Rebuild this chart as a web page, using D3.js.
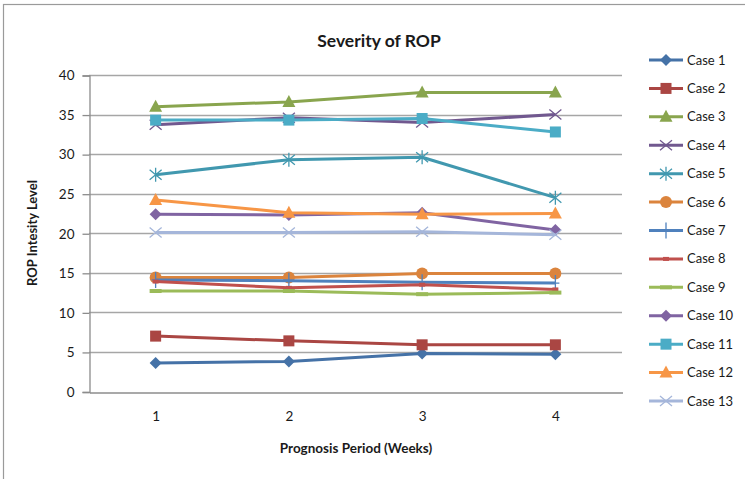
<!DOCTYPE html>
<html>
<head>
<meta charset="utf-8">
<script src="https://cdn.jsdelivr.net/npm/d3@7"></script>
<style>
  html, body { margin: 0; padding: 0; background: #fff; }
  svg text { font-family: Lato, "Open Sans", "Liberation Sans", sans-serif; fill: #1a1a1a; }
</style>
</head>
<body>
<svg id="chart" width="745" height="479"></svg>
<script>
// Prognosis weeks on the category axis
const weeks = ["1", "2", "3", "4"];
const yTicks = [0, 5, 10, 15, 20, 25, 30, 35, 40];

// ROP intensity per case for weeks 1-4
const case1  = [3.6, 3.8, 4.8, 4.7];
const case2  = [7.0, 6.4, 5.9, 5.9];
const case3  = [36.0, 36.6, 37.8, 37.8];
const case4  = [33.7, 34.6, 34.0, 35.0];
const case5  = [27.4, 29.3, 29.6, 24.5];
const case6  = [14.4, 14.4, 14.9, 14.9];
const case7  = [14.1, 14.0, 13.8, 13.7];
const case8  = [13.9, 13.1, 13.5, 12.9];
const case9  = [12.7, 12.7, 12.3, 12.5];
const case10 = [22.4, 22.3, 22.6, 20.4];
const case11 = [34.3, 34.3, 34.5, 32.8];
const case12 = [24.2, 22.6, 22.4, 22.5];
const case13 = [20.1, 20.1, 20.2, 19.8];

const names  = ["Case 1","Case 2","Case 3","Case 4","Case 5","Case 6","Case 7",
                "Case 8","Case 9","Case 10","Case 11","Case 12","Case 13"];
const values = [case1, case2, case3, case4, case5, case6, case7,
                case8, case9, case10, case11, case12, case13];
const colors = ["#4572A7","#AA4643","#89A54E","#71588F","#4198AF","#DB843D","#4F81BD",
                "#C0504D","#9BBB59","#8064A2","#4BACC6","#F79646","#A5B6DA"];
const markers = ["diamond","square","triangle","x","star","circle","plus",
                 "dash","longdash","diamond","square","triangle","x"];

const svg = d3.select("#chart");

// outer chart frame
svg.append("rect")
  .attr("x", 3.5).attr("y", 4.5).attr("width", 800).attr("height", 500)
  .attr("fill", "none").attr("stroke", "#9a9a9a").attr("stroke-width", 1.2);

const plot = { left: 89, right: 622, top: 75, bottom: 391.5 };

const x = d3.scaleBand().domain(weeks).range([plot.left, plot.right]);
const y = d3.scaleLinear().domain([0, 40]).range([plot.bottom, plot.top]);

// horizontal gridlines
svg.append("g").selectAll("line").data(yTicks.filter(d => d > 0)).join("line")
  .attr("x1", plot.left).attr("x2", plot.right)
  .attr("y1", d => Math.round(y(d)) + 0.5).attr("y2", d => Math.round(y(d)) + 0.5)
  .attr("stroke", "#a6a6a6").attr("stroke-width", 1.3);

// y axis
const yAxis = svg.append("g")
  .attr("transform", `translate(${plot.left + 0.5},0.5)`)
  .call(d3.axisLeft(y).tickValues(yTicks).tickSize(7).tickPadding(8));
yAxis.select(".domain").attr("stroke", "#8c8c8c").attr("stroke-width", 1.3);
yAxis.selectAll(".tick line").attr("stroke", "#8c8c8c").attr("stroke-width", 1.3);
yAxis.selectAll("text").attr("font-size", 13.5).attr("fill", "#1a1a1a")
  .style("font-family", "Lato, 'Open Sans', sans-serif");

// x axis
const xAxis = svg.append("g")
  .attr("transform", `translate(0.5,${Math.round(plot.bottom) + 0.5})`)
  .call(d3.axisBottom(x).tickSize(0).tickPadding(19));
xAxis.select(".domain").attr("stroke", "#8c8c8c").attr("stroke-width", 1.3);
xAxis.selectAll("text").attr("font-size", 13.5).attr("fill", "#1a1a1a")
  .style("font-family", "Lato, 'Open Sans', sans-serif");

// titles
svg.append("text").attr("x", 379).attr("y", 47).attr("text-anchor", "middle")
  .attr("font-size", 17.5).attr("font-weight", "bold").text("Severity of ROP");
svg.append("text").attr("x", 356).attr("y", 453).attr("text-anchor", "middle")
  .attr("font-size", 13.5).attr("font-weight", "bold").text("Prognosis Period (Weeks)");
svg.append("text").attr("transform", "translate(37,233) rotate(-90)")
  .attr("text-anchor", "middle").attr("font-size", 13).attr("font-weight", "bold")
  .text("ROP Intesity Level");

// marker drawing
function drawMarker(g, type, color) {
  switch (type) {
    case "diamond":
      g.append("path").attr("d", "M0,-6L6,0L0,6L-6,0Z").attr("fill", color); break;
    case "square":
      g.append("rect").attr("x", -5.5).attr("y", -5.5).attr("width", 11).attr("height", 11)
        .attr("fill", color); break;
    case "triangle":
      g.append("path").attr("d", "M0,-7L6.5,5L-6.5,5Z").attr("fill", color); break;
    case "circle":
      g.append("circle").attr("r", 6).attr("fill", color); break;
    case "x":
      g.append("path").attr("d", "M-6,-5L6,5M-6,5L6,-5").attr("stroke", color)
        .attr("stroke-width", 1.3).attr("fill", "none"); break;
    case "star":
      g.append("path").attr("d", "M-6,-5L6,5M-6,5L6,-5M0,-7L0,7").attr("stroke", color)
        .attr("stroke-width", 1.3).attr("fill", "none"); break;
    case "plus":
      g.append("path").attr("d", "M0,-8L0,8M-4,0L4,0").attr("stroke", color)
        .attr("stroke-width", 1.3).attr("fill", "none"); break;
    case "dash":
      g.append("rect").attr("x", -3).attr("y", -2).attr("width", 6).attr("height", 4)
        .attr("fill", color); break;
    case "longdash":
      g.append("rect").attr("x", -6).attr("y", -2).attr("width", 12).attr("height", 4)
        .attr("fill", color); break;
  }
}

const line = d3.line()
  .x((d, i) => x(weeks[i]) + x.bandwidth() / 2)
  .y(d => y(d));

const seriesG = svg.append("g");
values.forEach((vals, s) => {
  const g = seriesG.append("g");
  g.append("path").datum(vals).attr("d", line)
    .attr("fill", "none").attr("stroke", colors[s]).attr("stroke-width", 3)
    .attr("stroke-linejoin", "round");
  g.selectAll("g.pt").data(vals).join("g").attr("class", "pt")
    .attr("transform", (d, i) => `translate(${x(weeks[i]) + x.bandwidth() / 2},${y(d)})`)
    .each(function () { drawMarker(d3.select(this), markers[s], colors[s]); });
});

// legend
const legend = svg.append("g");
const legendY = d3.scaleLinear().domain([0, names.length - 1]).range([60, 401]);
names.forEach((name, s) => {
  const g = legend.append("g").attr("transform", `translate(0,${legendY(s)})`);
  g.append("line").attr("x1", 649).attr("x2", 683).attr("y1", 0).attr("y2", 0)
    .attr("stroke", colors[s]).attr("stroke-width", 3);
  const m = g.append("g").attr("transform", "translate(666,0)");
  drawMarker(m, markers[s], colors[s]);
  g.append("text").attr("x", 687).attr("y", 0).attr("dy", "0.35em")
    .attr("font-size", 13).text(name);
});
</script>
</body>
</html>
